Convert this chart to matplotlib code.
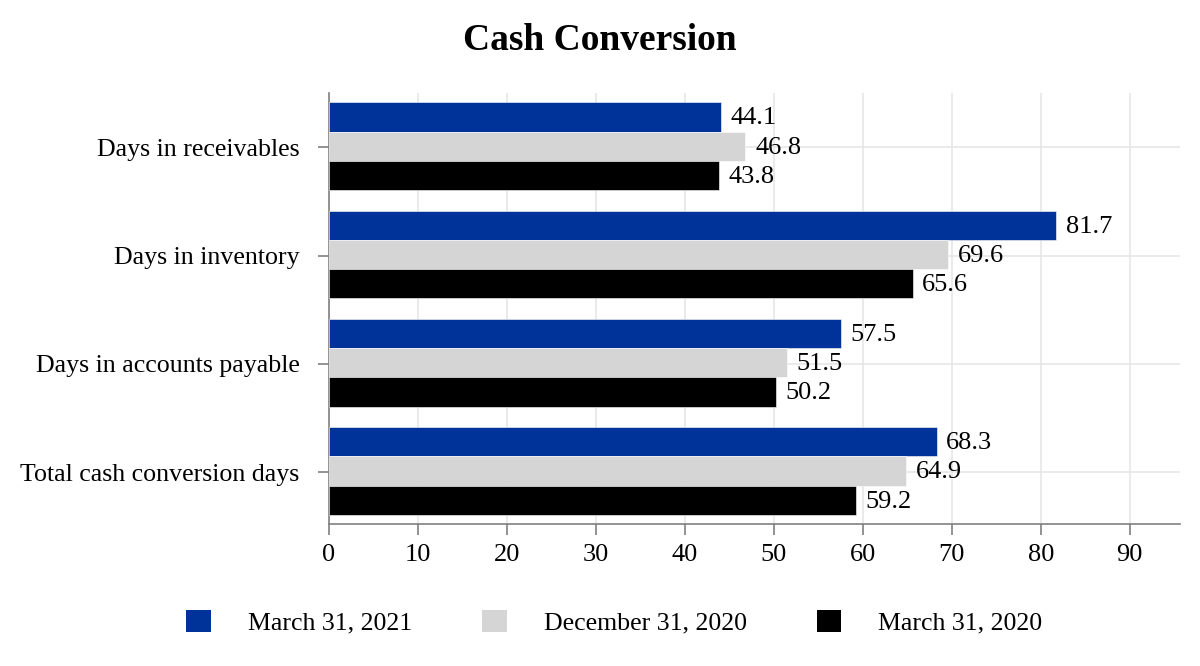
import matplotlib
matplotlib.use("Agg")
import matplotlib.pyplot as plt
import numpy as np
from matplotlib.patches import Patch

categories = ["Days in receivables", "Days in inventory", "Days in accounts payable", "Total cash conversion days"]
series_names = ["March 31, 2021", "December 31, 2020", "March 31, 2020"]
mar_2021 = [44.1, 81.7, 57.5, 68.3]
dec_2020 = [46.8, 69.6, 51.5, 64.9]
mar_2020 = [43.8, 65.6, 50.2, 59.2]
colors = ["#003399", "#d5d5d5", "#000000"]
x_ticks = [0, 10, 20, 30, 40, 50, 60, 70, 80, 90]

plt.rcParams['font.family'] = ['Liberation Serif', 'DejaVu Serif']

fig = plt.figure(figsize=(12, 6.66), dpi=100)
ax = fig.add_axes([0.274, 0.213, 0.709, 0.647])

y = np.arange(len(categories))
h = 0.27
all_series = [mar_2021, dec_2020, mar_2020]
for i, (vals, c) in enumerate(zip(all_series, colors)):
    pos = y + (i - 1) * h - 0.01
    ax.barh(pos, vals, height=h, color=c, edgecolor='white', linewidth=0.4, zorder=3)
    for p, v in zip(pos, vals):
        ax.annotate(f"{v:.1f}", (v, p), xytext=(7, -1), textcoords='offset points',
                    ha='left', va='center', fontsize=19, color='black', zorder=4)

ax.set_xlim(0, 95.6)
ax.set_ylim(3.48, -0.5)
ax.set_xticks(x_ticks)
ax.set_yticks(y)
ax.set_yticklabels(categories)
ax.tick_params(axis='both', labelsize=19, color='#808080', length=8, width=1.2)
ax.tick_params(axis='y', pad=13, labelsize=18.6)
ax.tick_params(axis='x', pad=6)
ax.grid(True, color='#e6e6e6', linewidth=1.2, zorder=0)
ax.set_axisbelow(True)
for s in ['top', 'right']:
    ax.spines[s].set_visible(False)
for s in ['left', 'bottom']:
    ax.spines[s].set_color('#808080')
    ax.spines[s].set_linewidth(1.2)

fig.text(0.5, 0.939, "Cash Conversion", ha='center', va='center', fontsize=27, fontweight='bold')

handles = [Patch(facecolor=c, edgecolor='none') for c in colors]
fig.legend(handles, series_names, loc='center', bbox_to_anchor=(0.512, 0.066), ncol=3,
           frameon=False, fontsize=18.6, handlelength=0.95, handleheight=0.95,
           handletextpad=1.44, columnspacing=2.7)

fig.savefig("out.png", dpi=100)
